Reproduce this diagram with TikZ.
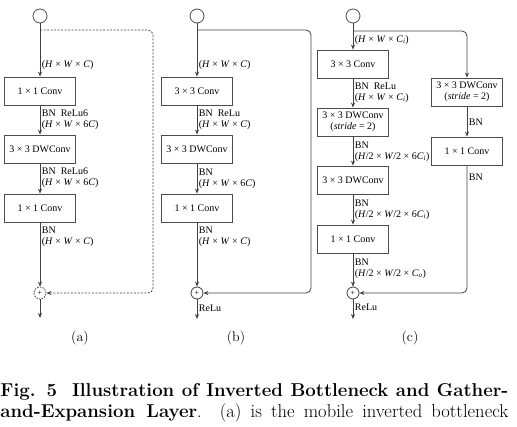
\documentclass[tikz,border=0pt]{standalone}
\usepackage{fontspec}
\newfontfamily\dfont{Liberation Serif}
\usepackage{tikz}
\usetikzlibrary{arrows.meta,positioning,calc}

\newcommand{\hw}[1]{(\textit{H} × \textit{W} × #1)}
\newcommand{\hwh}[1]{(\textit{H}/2 × \textit{W}/2 × #1)}

\begin{document}
\begin{tikzpicture}[x=1pt,y=1pt, line width=0.8pt,
  every node/.style={font=\dfont\fontsize{10}{11}\selectfont},
  blk/.style={draw=black!70, minimum width=71pt, minimum height=28pt, inner sep=1pt, align=center},
  lbl/.style={anchor=west, inner sep=0.5pt},
  src/.style={circle, draw=black!70, minimum size=14pt, inner sep=0pt},
  sum/.style={circle, draw=black!75, minimum size=12pt, inner sep=0pt},
  flow/.style={draw=black!75, -{Stealth[length=5pt,width=4pt]}},
  skip/.style={flow, rounded corners=5pt},
  tag/.style={font=\fontsize{14}{16}\selectfont},
  capline/.style={anchor=base west, inner sep=0pt, font=\fontsize{18.6}{20}\selectfont}]
\useasboundingbox (0,0) rectangle (517,-427);

% (a) inverted bottleneck
\node[src] (ina) at (40,-16) {};
\node[blk] (a1) at (40,-91) {1 × 1 Conv};
\node[blk] (a2) at (40,-149) {3 × 3 DWConv};
\node[blk] (a3) at (40,-208) {1 × 1 Conv};
\node[sum, dash pattern=on 1.5pt off 1.2pt] (sa) at (40,-293) {\fontsize{8}{8}\selectfont +};
\coordinate (ba) at (40,-30);
\coordinate (ca) at (153,-160);
\coordinate (outa) at (40,-318);
\draw[flow] (ina) -- (a1);
\draw[flow] (a1) -- (a2);
\draw[flow] (a2) -- (a3);
\draw[flow] (a3) -- (sa);
\draw[flow] (sa) -- (outa);
\draw[skip, dash pattern=on 2pt off 1.5pt] (ba) -| (ca) |- (sa);
\node[lbl] (la0) at (41,-65) {\hw{\textit{C}}};
\node[lbl] (la1) at (41,-113) {BN\ \ ReLu6};
\node[lbl] (la2) at (41,-125) {\hw{6\textit{C}}};
\node[lbl] (la3) at (41,-171) {BN\ \ ReLu6};
\node[lbl] (la4) at (41,-183) {\hw{6\textit{C}}};
\node[lbl] (la5) at (41,-230) {BN};
\node[lbl] (la6) at (41,-242) {\hw{\textit{C}}};
\node[tag] (ta) at (80,-338) {(a)};

% (b) residual block
\node[src] (inb) at (197,-16) {};
\node[blk] (b1) at (197,-91) {3 × 3 Conv};
\node[blk] (b2) at (197,-149) {3 × 3 DWConv};
\node[blk] (b3) at (197,-208) {1 × 1 Conv};
\node[sum] (sb) at (197,-293) {\fontsize{8}{8}\selectfont +};
\coordinate (bb) at (197,-30);
\coordinate (cb) at (311,-160);
\coordinate (outb) at (197,-319);
\draw[flow] (inb) -- (b1);
\draw[flow] (b1) -- (b2);
\draw[flow] (b2) -- (b3);
\draw[flow] (b3) -- (sb);
\draw[flow] (sb) -- (outb);
\draw[skip] (bb) -| (cb) |- (sb);
\node[lbl] (lb0) at (198,-65) {\hw{\textit{C}}};
\node[lbl] (lb1) at (198,-113) {BN\ \ ReLu};
\node[lbl] (lb2) at (198,-125) {\hw{\textit{C}}};
\node[lbl] (lb3) at (198,-172) {BN};
\node[lbl] (lb4) at (198,-184) {\hw{6\textit{C}}};
\node[lbl] (lb5) at (198,-230) {BN};
\node[lbl] (lb6) at (198,-242) {\hw{\textit{C}}};
\node[lbl] (lb7) at (198,-308) {ReLu};
\node[tag] (tb) at (236,-338) {(b)};

% (c) gather-and-expansion layer
\node[src] (inc) at (353,-16) {};
\node[blk] (c1) at (353,-64) {3 × 3 Conv};
\node[blk] (c2) at (353,-122) {3 × 3 DWConv\\(\textit{stride} = 2)};
\node[blk] (c3) at (353,-180) {3 × 3 DWConv};
\node[blk] (c4) at (353,-239) {1 × 1 Conv};
\node[sum] (sc) at (353,-293) {\fontsize{8}{8}\selectfont +};
\node[blk] (r1) at (467,-92) {3 × 3 DWConv\\(\textit{stride} = 2)};
\node[blk] (r2) at (467,-151) {1 × 1 Conv};
\coordinate (bc) at (353,-31);
\coordinate (outc) at (353,-319);
\draw[flow] (inc) -- (c1);
\draw[flow] (c1) -- (c2);
\draw[flow] (c2) -- (c3);
\draw[flow] (c3) -- (c4);
\draw[flow] (c4) -- (sc);
\draw[flow] (sc) -- (outc);
\draw[skip] (bc) -| (r1);
\draw[flow] (r1) -- (r2);
\draw[skip] (r2) |- (sc);
\node[lbl] (lc0) at (354,-40) {\hw{\textit{C}\textsubscript{\textit{i}}}};
\node[lbl] (lc1) at (354,-86) {BN\ \ ReLu};
\node[lbl] (lc2) at (354,-98) {\hw{\textit{C}\textsubscript{\textit{i}}}};
\node[lbl] (lc3) at (354,-145) {BN};
\node[lbl] (lc4) at (354,-157) {\hwh{6\textit{C}\textsubscript{\textit{i}}}};
\node[lbl] (lc5) at (354,-203) {BN};
\node[lbl] (lc6) at (354,-215) {\hwh{6\textit{C}\textsubscript{\textit{i}}}};
\node[lbl] (lc7) at (354,-262) {BN};
\node[lbl] (lc8) at (354,-274) {\hwh{\textit{C}\textsubscript{\textit{o}}}};
\node[lbl] (lc9) at (354,-307) {ReLu};
\node[lbl] (lr1) at (468,-122) {BN};
\node[lbl] (lr2) at (468,-177) {BN};
\node[tag] (tc) at (410,-338) {(c)};

% caption
\node[capline] (cap1) at (0,-397)
  {\makebox[508pt][s]{\textbf{Fig. 5\ \ Illustration of Inverted Bottleneck and Gather-}}};
\node[capline] (cap2) at (0,-418)
  {\makebox[508pt][s]{\textbf{and-Expansion Layer}. (a) is the mobile inverted bottleneck}};
\end{tikzpicture}
\end{document}
